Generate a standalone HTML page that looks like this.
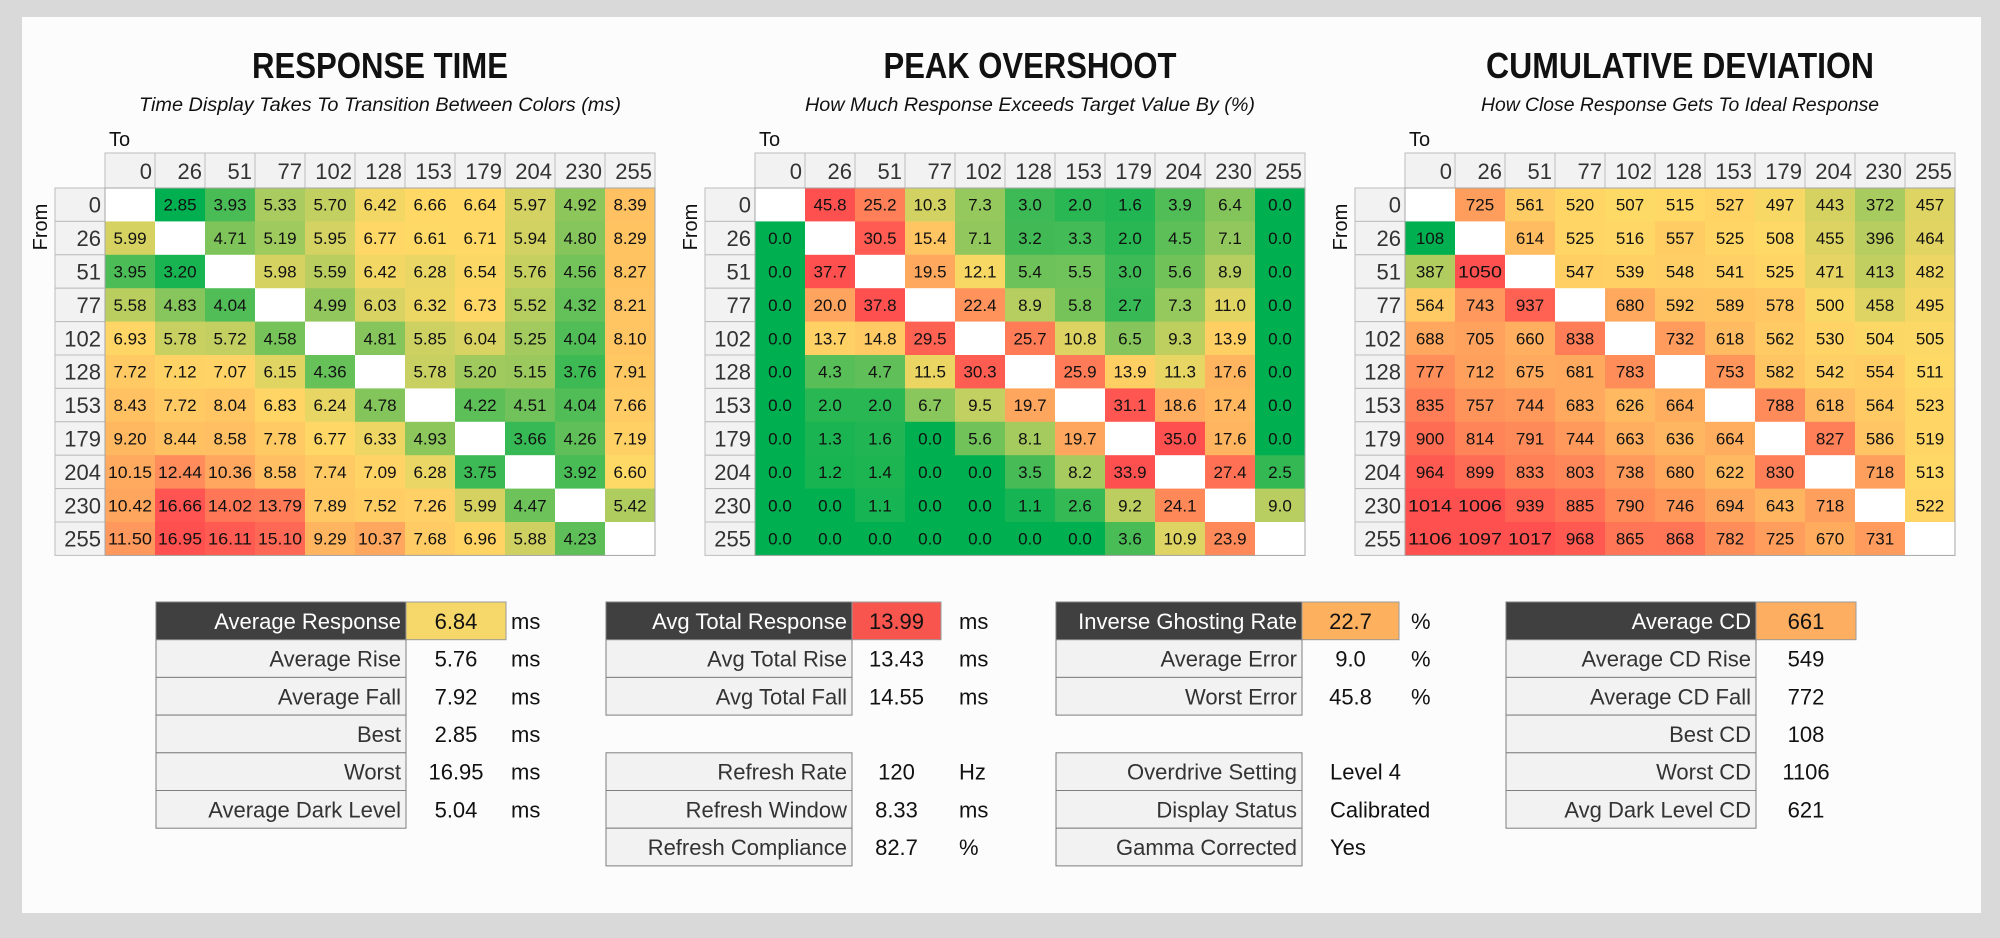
<!DOCTYPE html>
<html><head><meta charset="utf-8">
<style>
html,body{margin:0;padding:0;background:#d9d9d9;}
svg{display:block;font-family:"Liberation Sans",sans-serif;}
</style></head>
<body>
<svg id="root" width="2000" height="938" viewBox="0 0 2000 938" xmlns="http://www.w3.org/2000/svg">
<rect x="0" y="0" width="2000" height="938" fill="#d9d9d9"/>
<rect x="22" y="17" width="1959" height="896" fill="#fcfcfc"/>
</svg>
<script>
const transitions = [0,26,51,77,102,128,153,179,204,230,255];
const responseTime = [
[null,2.85,3.93,5.33,5.70,6.42,6.66,6.64,5.97,4.92,8.39],
[5.99,null,4.71,5.19,5.95,6.77,6.61,6.71,5.94,4.80,8.29],
[3.95,3.20,null,5.98,5.59,6.42,6.28,6.54,5.76,4.56,8.27],
[5.58,4.83,4.04,null,4.99,6.03,6.32,6.73,5.52,4.32,8.21],
[6.93,5.78,5.72,4.58,null,4.81,5.85,6.04,5.25,4.04,8.10],
[7.72,7.12,7.07,6.15,4.36,null,5.78,5.20,5.15,3.76,7.91],
[8.43,7.72,8.04,6.83,6.24,4.78,null,4.22,4.51,4.04,7.66],
[9.20,8.44,8.58,7.78,6.77,6.33,4.93,null,3.66,4.26,7.19],
[10.15,12.44,10.36,8.58,7.74,7.09,6.28,3.75,null,3.92,6.60],
[10.42,16.66,14.02,13.79,7.89,7.52,7.26,5.99,4.47,null,5.42],
[11.50,16.95,16.11,15.10,9.29,10.37,7.68,6.96,5.88,4.23,null]];
const overshoot = [
[null,45.8,25.2,10.3,7.3,3.0,2.0,1.6,3.9,6.4,0.0],
[0.0,null,30.5,15.4,7.1,3.2,3.3,2.0,4.5,7.1,0.0],
[0.0,37.7,null,19.5,12.1,5.4,5.5,3.0,5.6,8.9,0.0],
[0.0,20.0,37.8,null,22.4,8.9,5.8,2.7,7.3,11.0,0.0],
[0.0,13.7,14.8,29.5,null,25.7,10.8,6.5,9.3,13.9,0.0],
[0.0,4.3,4.7,11.5,30.3,null,25.9,13.9,11.3,17.6,0.0],
[0.0,2.0,2.0,6.7,9.5,19.7,null,31.1,18.6,17.4,0.0],
[0.0,1.3,1.6,0.0,5.6,8.1,19.7,null,35.0,17.6,0.0],
[0.0,1.2,1.4,0.0,0.0,3.5,8.2,33.9,null,27.4,2.5],
[0.0,0.0,1.1,0.0,0.0,1.1,2.6,9.2,24.1,null,9.0],
[0.0,0.0,0.0,0.0,0.0,0.0,0.0,3.6,10.9,23.9,null]];
const cumDeviation = [
[null,725,561,520,507,515,527,497,443,372,457],
[108,null,614,525,516,557,525,508,455,396,464],
[387,1050,null,547,539,548,541,525,471,413,482],
[564,743,937,null,680,592,589,578,500,458,495],
[688,705,660,838,null,732,618,562,530,504,505],
[777,712,675,681,783,null,753,582,542,554,511],
[835,757,744,683,626,664,null,788,618,564,523],
[900,814,791,744,663,636,664,null,827,586,519],
[964,899,833,803,738,680,622,830,null,718,513],
[1014,1006,939,885,790,746,694,643,718,null,522],
[1106,1097,1017,968,865,868,782,725,670,731,null]];
const rtScale = [2.85, 6.6, 16.95];
const osScale = [0, 12.5, 32];
const cdScale = [108, 510, 1000];

const NS = "http://www.w3.org/2000/svg";
const root = document.getElementById('root');
function mk(tag, attrs, parent){
  const e = document.createElementNS(NS, tag);
  for (const k in attrs) e.setAttribute(k, attrs[k]);
  (parent||root).appendChild(e);
  return e;
}
function txt(s, attrs, parent){ const e = mk('text', attrs, parent); e.textContent = s; return e; }
const G=[0,176,80], Y=[255,217,102], R=[255,80,80];
function mix(a,b,t){return 'rgb('+a.map((v,i)=>Math.round(v+(b[i]-v)*t)).join(',')+')';}
function colorOf(v, sc){
  if (v<=sc[1]) { const t=Math.max(0,(v-sc[0])/(sc[1]-sc[0])); return mix(G,Y,t); }
  const t=Math.min(1,(v-sc[1])/(sc[2]-sc[1])); return mix(Y,R,t);
}
const CW=50, HY=153, HH=35, RY=188, RH=33.4;
function colX(left,j){return left + j*CW;}
function rowY(i){return RY + i*RH;}
function fit(s){ return s.length>=5 || (s.length===4 && s.indexOf('.')<0) ? {textLength:44, lengthAdjust:'spacingAndGlyphs'} : {}; }

function heatmap(key, left, title, subtitle, titleW, subW, data, sc, fmt){
  const g = mk('g', {});
  
  
  const cx = left + 275;
  const t = txt(title, {x:cx, y:78, 'text-anchor':'middle', 'font-size':36, 'font-weight':'bold', fill:'#111', textLength:titleW, lengthAdjust:'spacingAndGlyphs'}, g);
  
  
  const st = txt(subtitle, {x:cx, y:111, 'text-anchor':'middle', 'font-size':19, 'font-style':'italic', fill:'#111', textLength:subW, lengthAdjust:'spacingAndGlyphs'}, g);
  
  
  const to = txt('To', {x:left+4, y:146, 'font-size':20, fill:'#111'}, g);
  
  
  const fr = txt('From', {x:0, y:0, 'font-size':20, fill:'#111', 'text-anchor':'middle', transform:'translate('+(left-58)+',227) rotate(-90)'}, g);
  
  
  transitions.forEach((c,j)=>{
    const r = mk('rect',{x:colX(left,j), y:HY, width:CW, height:HH, fill:'#f2f2f2', stroke:'#bdbdbd', 'stroke-width':1}, g);
    
    
    const tl = txt(String(c), {x:colX(left,j)+CW-3, y:HY+HH-9, 'text-anchor':'end', 'font-size':22, fill:'#333'}, g);
    
    
  });
  transitions.forEach((c,i)=>{
    const r = mk('rect',{x:left-50, y:rowY(i), width:50, height:RH, fill:'#f2f2f2', stroke:'#bdbdbd', 'stroke-width':1}, g);
    
    
    const tl = txt(String(c), {x:left-4, y:rowY(i)+RH/2+8, 'text-anchor':'end', 'font-size':22, fill:'#333'}, g);
    
    
  });
  data.forEach((row,i)=>{
    row.forEach((v,j)=>{
      const fill = v===null ? '#ffffff' : colorOf(v, sc);
      const r = mk('rect',{x:colX(left,j), y:rowY(i), width:CW+0.5, height:RH+0.5, fill:fill}, g);
      
      
      if (v!==null){
        const s = fmt(v);
        const a = Object.assign({x:colX(left,j)+CW/2, y:rowY(i)+RH/2+6, 'text-anchor':'middle', 'font-size':17, fill:'#111'}, fit(s));
        const tv = txt(s, a, g);
        
        
      }
    });
  });
  const b = mk('rect',{x:left, y:RY, width:CW*11, height:RH*11, fill:'none', stroke:'#a6a6a6', 'stroke-width':1}, g);
  
  
}
heatmap('response-time', 105, 'RESPONSE TIME', 'Time Display Takes To Transition Between Colors (ms)', 256, 482, responseTime, rtScale, v=>v.toFixed(2));
heatmap('peak-overshoot', 755, 'PEAK OVERSHOOT', 'How Much Response Exceeds Target Value By (%)', 293, 450, overshoot, osScale, v=>v.toFixed(1));
heatmap('cumulative-deviation', 1405, 'CUMULATIVE DEVIATION', 'How Close Response Gets To Ideal Response', 388, 398, cumDeviation, cdScale, v=>String(v));

const TY=602, TH=37.7;
function table(key, lx, lw, vw, unitX, rows, hiColor, leftVals){
  const g = mk('g', {});
  
  
  rows.forEach((r,i)=>{
    if (!r) return;
    const y = TY + i*TH;
    const head = i===0;
    const lr = mk('rect',{x:lx, y:y, width:lw, height:TH, fill: head?'#404040':'#f2f2f2', stroke:'#7f7f7f', 'stroke-width':1}, g);
    
    
    const lt = txt(r[0], {x:lx+lw-5, y:y+TH/2+8, 'text-anchor':'end', 'font-size':22, fill: head?'#fff':'#333'}, g);
    
    
    if (head){
      const vr = mk('rect',{x:lx+lw, y:y, width:vw, height:TH, fill:hiColor, stroke:'#9a9a9a', 'stroke-width':1}, g);
      
      
    }
    const useLeft = leftVals && i>=4;
    const vt = txt(r[1], {x: useLeft ? lx+lw+28 : lx+lw+vw/2, y:y+TH/2+8, 'text-anchor': useLeft?'start':'middle', 'font-size':22, fill:'#111'}, g);
    
    
    if (r[2]){
      const ut = txt(r[2], {x:unitX, y:y+TH/2+8, 'font-size':22, fill:'#111'}, g);
      
      
    }
  });
}
table('response', 156, 250, 100, 511, [
 ['Average Response','6.84','ms'],['Average Rise','5.76','ms'],['Average Fall','7.92','ms'],
 ['Best','2.85','ms'],['Worst','16.95','ms'],['Average Dark Level','5.04','ms']], '#f6d76a', false);
table('total-response', 606, 246, 89, 959, [
 ['Avg Total Response','13.99','ms'],['Avg Total Rise','13.43','ms'],['Avg Total Fall','14.55','ms'],
 null,['Refresh Rate','120','Hz'],['Refresh Window','8.33','ms'],['Refresh Compliance','82.7','%']], '#f8554f', false);
table('overshoot', 1056, 246, 97, 1411, [
 ['Inverse Ghosting Rate','22.7','%'],['Average Error','9.0','%'],['Worst Error','45.8','%'],
 null,['Overdrive Setting','Level 4',''],['Display Status','Calibrated',''],['Gamma Corrected','Yes','']], '#fdb15f', true);
table('cd', 1506, 250, 100, 0, [
 ['Average CD','661',''],['Average CD Rise','549',''],['Average CD Fall','772',''],
 ['Best CD','108',''],['Worst CD','1106',''],['Avg Dark Level CD','621','']], '#fdae61', false);
</script>
</body></html>
